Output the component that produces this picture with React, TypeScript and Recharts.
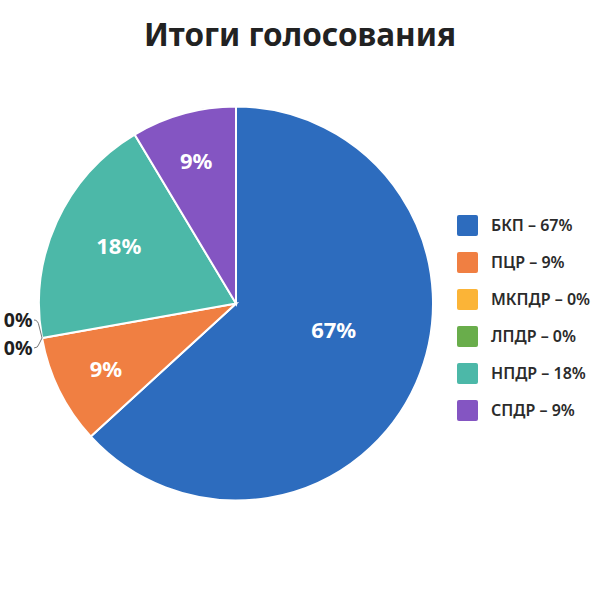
import { PieChart, Pie, Cell, Legend } from 'recharts'

const parties = ['БКП', 'ПЦР', 'МКПДР', 'ЛПДР', 'НПДР', 'СПДР']
const sliceShares = [63.2, 9, 0, 0, 19.2, 8.6]
// percentages as printed on the labels and in the legend
const printedPercents = [67, 9, 0, 0, 18, 9]
const colors = ['#2d6cbe', '#f07f42', '#fbb437', '#69ad4b', '#4cb8a8', '#8455c2']

const chartData = parties.map((name, i) => ({ name, share: sliceShares[i] }))

const RAD = Math.PI / 180
const FONT = '"Noto Sans", sans-serif'

// inner labels sit at different depths in the original
const labelSpots: Record<number, { radius: number; turn: number }> = {
  0: { radius: 101, turn: 9 },
  1: { radius: 145, turn: 0 },
  4: { radius: 131, turn: -2 },
  5: { radius: 149, turn: 0 },
}

function SliceLabel({ cx, cy, midAngle, outerRadius, index }: any) {
  const text = `${printedPercents[index]}%`
  const spot = labelSpots[index]
  if (spot) {
    const angle = (midAngle + spot.turn) * RAD
    return (
      <text
        x={cx + spot.radius * Math.cos(angle)}
        y={cy - spot.radius * Math.sin(angle)}
        fill="#fff"
        fontFamily={FONT}
        fontSize={22}
        fontWeight={700}
        textAnchor="middle"
        dominantBaseline="central"
      >
        {text}
      </text>
    )
  }
  // zero slices get an outside label with a curved leader
  const px = cx + outerRadius * Math.cos(midAngle * RAD)
  const py = cy - outerRadius * Math.sin(midAngle * RAD)
  const rowY = index === 2 ? py - 18 : py + 10
  const bend = index === 2 ? py - 12 : py + 6
  return (
    <g>
      <path
        d={`M${px} ${py} L${px - 3} ${bend} Q${px - 4} ${rowY} ${px - 8} ${rowY}`}
        fill="none"
        stroke="#777"
        strokeWidth={1}
      />
      <text
        x={px - 9.5}
        y={rowY}
        fill="#1f1f1f"
        fontFamily={FONT}
        fontSize={19.5}
        fontWeight={700}
        textAnchor="end"
        dominantBaseline="central"
      >
        {text}
      </text>
    </g>
  )
}

function VoteLegend() {
  return (
    <div style={{ fontFamily: FONT }}>
      {parties.map((name, i) => (
        <div key={name} style={{ display: 'flex', alignItems: 'center', height: 37 }}>
          <span
            style={{
              display: 'inline-block',
              width: 21,
              height: 21,
              borderRadius: 2,
              backgroundColor: colors[i],
              marginRight: 13,
            }}
          />
          <span
            style={{
              fontSize: 16,
              fontWeight: 600,
              color: '#2b2b2b',
              whiteSpace: 'nowrap',
              position: 'relative',
              top: -1,
            }}
          >
            {name} – {printedPercents[i]}%
          </span>
        </div>
      ))}
    </div>
  )
}

export default function App() {
  return (
    <div style={{ position: 'absolute', left: 0, top: 0, width: 600, height: 600, background: '#fff' }}>
      <div
        style={{
          position: 'absolute',
          top: 12,
          left: 0,
          width: 600,
          textAlign: 'center',
          fontFamily: FONT,
          fontSize: 31.5,
          fontWeight: 700,
          color: '#222',
          lineHeight: '44px',
        }}
      >
        Итоги голосования
      </div>
      <PieChart width={600} height={600} margin={{ top: 0, right: 0, bottom: 0, left: 0 }}>
        <Pie
          data={chartData}
          dataKey="share"
          nameKey="name"
          cx={236}
          cy={303.5}
          outerRadius={197}
          startAngle={90}
          endAngle={-270}
          stroke="#fff"
          strokeWidth={2}
          label={SliceLabel}
          labelLine={false}
          isAnimationActive={false}
        >
          {parties.map((name, i) => (
            <Cell key={name} fill={colors[i]} />
          ))}
        </Pie>
        <Legend
          content={<VoteLegend />}
          wrapperStyle={{ position: 'absolute', left: 457, top: 207, width: 143, height: 222, bottom: 'auto' }}
        />
      </PieChart>
    </div>
  )
}
